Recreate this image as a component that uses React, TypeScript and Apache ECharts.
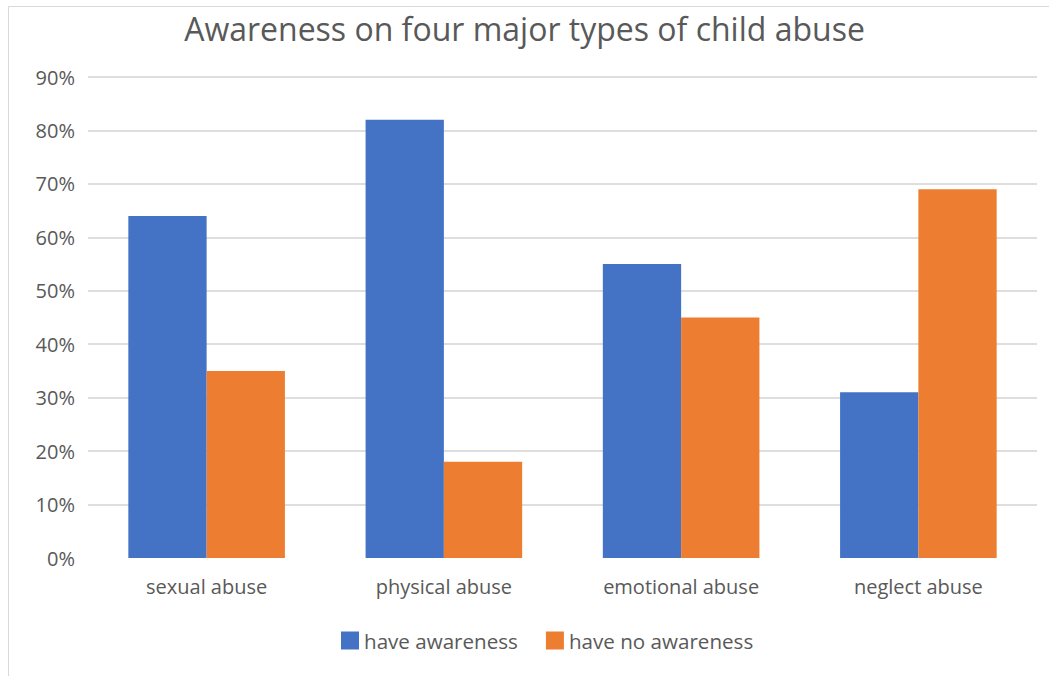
import React, { useEffect, useRef } from "react";
import * as echarts from "echarts";

const categories = ["sexual abuse", "physical abuse", "emotional abuse", "neglect abuse"];
const haveAwareness = [64, 82, 55, 31];
const haveNoAwareness = [35, 18, 45, 69];
const seriesNames = ["have awareness", "have no awareness"];
const titleText = "Awareness on four major types of child abuse";

const FONT = "'Open Sans', 'Noto Sans', sans-serif";

export default function App() {
  const ref = useRef<HTMLDivElement>(null);
  useEffect(() => {
    document.body.style.margin = "0";
    const chart = echarts.init(ref.current!, null, { renderer: "svg" });
    chart.setOption({
      animation: false,
      backgroundColor: "#ffffff",
      textStyle: { fontFamily: FONT },
      graphic: [
        {
          type: "rect",
          shape: { x: 8.5, y: 6.5, width: 1100, height: 1100 },
          style: { fill: "none", stroke: "#d9d9d9", lineWidth: 1 },
          silent: true,
          z: -10,
        },
      ],
      title: {
        text: titleText,
        left: "center",
        top: 7,
        textStyle: { fontFamily: FONT, fontSize: 32, fontWeight: "normal", color: "#595959" },
      },
      legend: {
        data: seriesNames,
        bottom: 20,
        left: 336,
        itemWidth: 18,
        itemHeight: 18,
        itemGap: 28,
        icon: "rect",
        textStyle: { fontFamily: FONT, fontSize: 20.6, color: "#595959" },
      },
      grid: { left: 88, right: 12, top: 77, bottom: 118, containLabel: false },
      xAxis: {
        type: "category",
        data: categories,
        axisLine: { show: false },
        axisTick: { show: false },
        axisLabel: { fontFamily: FONT, fontSize: 20, color: "#595959", margin: 18 },
      },
      yAxis: {
        type: "value",
        min: 0,
        max: 90,
        interval: 10,
        axisLine: { show: false },
        axisTick: { show: false },
        splitLine: { showMinLine: false, lineStyle: { color: "#dedede", width: 2 } },
        axisLabel: { fontFamily: FONT, fontSize: 20, color: "#595959", formatter: "{value}%", margin: 13 },
      },
      series: [
        {
          name: seriesNames[0],
          type: "bar",
          data: haveAwareness,
          itemStyle: { color: "#4472C4" },
          barGap: "0%",
          barCategoryGap: "34%",
        },
        {
          name: seriesNames[1],
          type: "bar",
          data: haveNoAwareness,
          itemStyle: { color: "#ED7D31" },
          barGap: "0%",
          barCategoryGap: "34%",
        },
      ],
    });
    return () => chart.dispose();
  }, []);
  return <div ref={ref} style={{ position: "absolute", left: 0, top: 0, width: 1049, height: 676 }} />;
}
